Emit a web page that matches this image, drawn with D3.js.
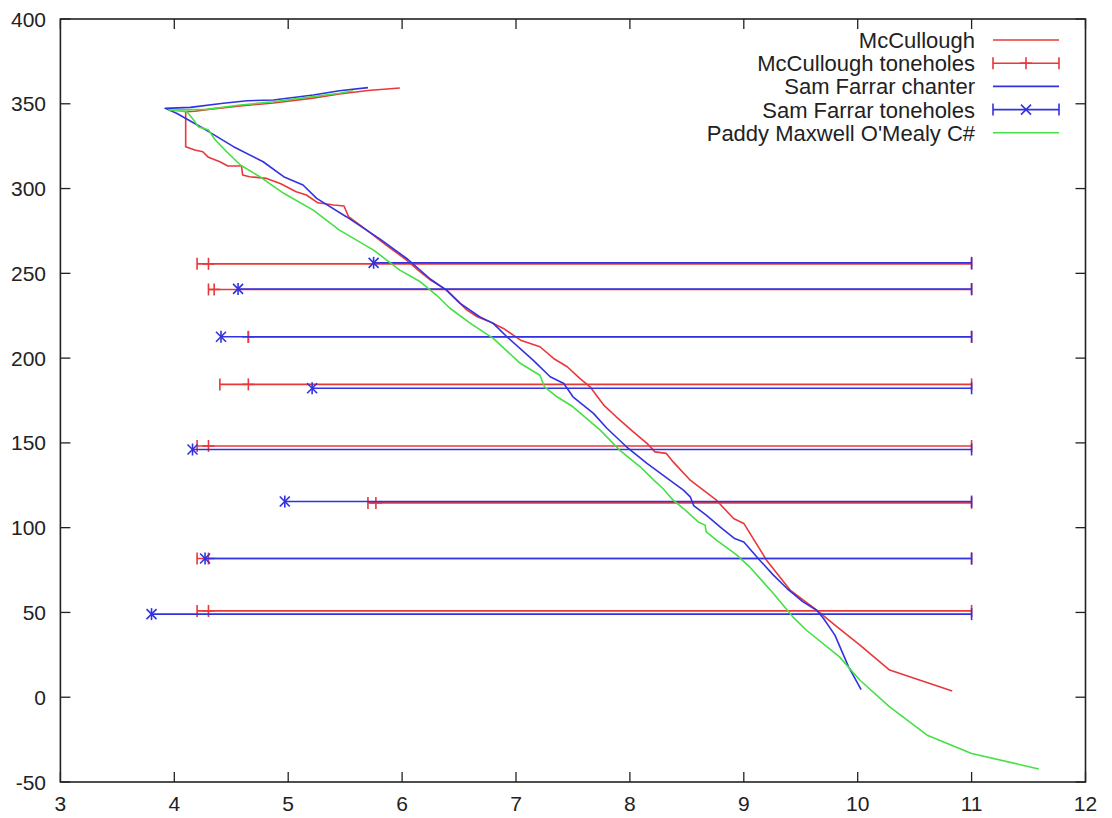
<!DOCTYPE html>
<html>
<head>
<meta charset="utf-8">
<script src="https://cdn.jsdelivr.net/npm/d3@7"></script>
<style>
  body { margin: 0; background: #fff; }
  text { font-family: "Liberation Sans", Arial, Helvetica, sans-serif; fill: #222; }
</style>
</head>
<body>
<div id="chart"></div>
<script>
// bore profiles: [diameter, position]
const mccullough = [[5.98,359.3],[5.7,357.8],[5.45,355.8],[5.2,353.2],[4.87,350.5],[4.6,348.8],[4.3,346.7],[4.18,345.6],[4.10,345.4],
  [4.10,324.7],[4.18,322.7],[4.25,321.7],[4.30,318.4],[4.40,315.8],[4.47,313.3],[4.59,313.3],[4.60,308],[4.66,307],[4.81,306],
  [4.93,303],[5.07,298.1],[5.16,296.2],[5.26,291.6],[5.40,290.3],[5.49,289.7],[5.53,283.4],[5.69,275.5],[5.86,266.7],[6.04,257.8],
  [6.14,251.9],[6.25,246],[6.39,240.1],[6.57,228.3],[6.66,224.4],[6.77,221.4],[6.89,217.5],[7.04,210.6],[7.21,206.7],[7.33,199.8],
  [7.45,194.9],[7.56,188],[7.65,183.1],[7.77,172.3],[7.88,165.4],[8.03,156.5],[8.15,149.7],[8.22,144.7],[8.32,143.8],[8.38,138.8],
  [8.53,128],[8.59,125],[8.76,116.2],[8.91,105.4],[9.00,102.5],[9.20,80.8],[9.41,63],[9.64,51.3],[9.80,42.5],[10.02,30.7],
  [10.28,16],[10.83,3.7]];

const farrar = [[5.70,359.5],[5.45,357.7],[5.22,355.2],[4.87,352.2],[4.64,351.8],[4.43,350.3],[4.14,347.9],[3.92,347.3],
  [4.02,344.4],[4.28,334.5],[4.52,324.7],[4.78,315.8],[4.96,307],[5.13,302.1],[5.25,294.2],[5.51,283.4],[5.81,270],[6.05,258.3],
  [6.25,246.5],[6.39,240.1],[6.51,232.3],[6.68,224.4],[6.80,220.5],[6.92,212.6],[7.15,198.8],[7.30,189],[7.42,185],[7.50,177.2],
  [7.68,167.4],[7.80,158.5],[7.97,147.7],[8.15,137.9],[8.32,129.5],[8.47,122.1],[8.53,118.2],[8.56,113],[8.67,107.4],[8.81,99.5],
  [8.92,93.6],[9.00,91.6],[9.14,80.8],[9.26,72],[9.38,64.1],[9.52,56.2],[9.64,51.3],[9.70,46.4],[9.80,36.6],[9.92,17.9],[10.03,4.5]];

const omealy = [[5.57,357.7],[5.45,356.2],[5.10,353.2],[4.87,351.2],[4.58,349.3],[4.28,346.7],[3.95,346.3],
  [4.11,345.3],[4.17,340.4],[4.21,336.5],[4.30,334.5],[4.36,328.6],[4.46,321.7],[4.58,313.9],[4.75,307],[4.96,297.2],[5.22,287.3],
  [5.45,275.5],[5.75,263.7],[5.98,251.9],[6.16,245],[6.30,237.2],[6.42,229.4],[6.60,220.5],[6.80,211.6],[7.04,196.8],[7.21,189.9],
  [7.25,183.1],[7.36,177.2],[7.50,171.3],[7.74,157.5],[7.91,145.7],[8.09,135.9],[8.21,128],[8.29,123.1],[8.38,116.2],[8.47,111.3],
  [8.60,103.4],[8.66,101.5],[8.67,97.5],[8.76,92.6],[8.94,83.8],[9.05,76.9],[9.26,61.2],[9.43,47.4],[9.55,39.5],[9.84,23.8],
  [10.02,10],[10.28,-5.7],[10.61,-22.4],[11.0,-33.2],[11.59,-42.3]];

// toneholes: [x, y, xlow, xhigh]
const mccToneholes = [[4.30,255.6,4.20,11],[4.35,240.5,4.30,11],[4.65,212.5,4.65,11],[4.65,184.5,4.40,11],
  [4.30,148.2,4.20,11],[5.77,114.6,5.70,11],[4.30,81.8,4.20,11],[4.30,50.9,4.20,11]];
const farToneholes = [[5.75,256.2,5.75,11],[4.56,240.8,4.56,11],[4.41,212.6,4.41,11],[5.21,182.2,5.21,11],
  [4.16,146.1,4.16,11],[4.97,115.4,4.97,11],[4.27,81.8,4.27,11],[3.80,49.0,3.80,11]];

const xTicks = [3,4,5,6,7,8,9,10,11,12];
const yTicks = [-50,0,50,100,150,200,250,300,350,400];
const legendLabels = ["McCullough","McCullough toneholes","Sam Farrar chanter","Sam Farrar toneholes","Paddy Maxwell O'Mealy C#"];

const RED = "#e8383a", BLUE = "#3232e0", GREEN = "#44e044";

const WIDTH = 1112, HEIGHT = 818;
const MARGINS = {left: 60.4, right: 26.5, top: 19, bottom: 36};

const svg = d3.select('#chart').append('svg')
  .attr('width', WIDTH).attr('height', HEIGHT);

const x = d3.scaleLinear().domain([3, 12]).range([MARGINS.left, WIDTH - MARGINS.right]);
const y = d3.scaleLinear().domain([-50, 400]).range([HEIGHT - MARGINS.bottom, MARGINS.top]);

const TICK = 10;

// tick marks, mirrored like gnuplot
const ticks = svg.append('g').attr('stroke', '#222').attr('stroke-width', 1.3);
xTicks.forEach(t => {
  ticks.append('line').attr('x1', x(t)).attr('x2', x(t)).attr('y1', y(-50)).attr('y2', y(-50) - TICK);
  ticks.append('line').attr('x1', x(t)).attr('x2', x(t)).attr('y1', y(400)).attr('y2', y(400) + TICK);
});
yTicks.forEach(t => {
  ticks.append('line').attr('x1', x(3)).attr('x2', x(3) + TICK).attr('y1', y(t)).attr('y2', y(t));
  ticks.append('line').attr('x1', x(12)).attr('x2', x(12) - TICK).attr('y1', y(t)).attr('y2', y(t));
});

svg.append('g').selectAll('text').data(xTicks).join('text')
  .attr('x', d => x(d)).attr('y', y(-50) + 29)
  .attr('text-anchor', 'middle').attr('font-size', 21).text(d => d);
svg.append('g').selectAll('text').data(yTicks).join('text')
  .attr('x', 46).attr('y', d => y(d)).attr('dy', '0.36em')
  .attr('text-anchor', 'end').attr('font-size', 21).text(d => d);

const line = d3.line().x(d => x(d[0])).y(d => y(d[1]));

function drawProfile(data, color) {
  svg.append('path').datum(data)
    .attr('fill', 'none').attr('stroke', color).attr('stroke-width', 1.6)
    .attr('stroke-linejoin', 'round').attr('d', line);
}

function plusMark(g, cx, cy, color) {
  g.append('line').attr('x1', cx - 6).attr('x2', cx + 6).attr('y1', cy).attr('y2', cy).attr('stroke', color);
  g.append('line').attr('x1', cx).attr('x2', cx).attr('y1', cy - 6).attr('y2', cy + 6).attr('stroke', color);
}
function crossMark(g, cx, cy, color) {
  g.append('line').attr('x1', cx - 5).attr('x2', cx + 5).attr('y1', cy - 5).attr('y2', cy + 5).attr('stroke', color);
  g.append('line').attr('x1', cx - 5).attr('x2', cx + 5).attr('y1', cy + 5).attr('y2', cy - 5).attr('stroke', color);
}

function errorBar(g, x0, x1, cy, color) {
  g.append('line').attr('x1', x0).attr('x2', x1).attr('y1', cy).attr('y2', cy).attr('stroke', color);
  g.append('line').attr('x1', x0).attr('x2', x0).attr('y1', cy - 6).attr('y2', cy + 6).attr('stroke', color);
  g.append('line').attr('x1', x1).attr('x2', x1).attr('y1', cy - 6).attr('y2', cy + 6).attr('stroke', color);
}

function drawToneholes(data, color, marker) {
  const g = svg.append('g').attr('stroke-width', 1.6);
  data.forEach(d => {
    errorBar(g, x(d[2]), x(d[3]), y(d[1]), color);
    marker(g, x(d[0]), y(d[1]), color);
  });
}

drawProfile(mccullough, RED);
drawToneholes(mccToneholes, RED, plusMark);
drawProfile(farrar, BLUE);
drawToneholes(farToneholes, BLUE, crossMark);
drawProfile(omealy, GREEN);

// legend
const legend = svg.append('g');
const legX0 = 993, legX1 = 1059, legTextX = 975, legY0 = 40, legStep = 23.2;
const legStyles = [
  {color: RED, type: 'line'}, {color: RED, type: 'plus'},
  {color: BLUE, type: 'line'}, {color: BLUE, type: 'cross'}, {color: GREEN, type: 'line'}
];
legendLabels.forEach((lab, i) => {
  const ly = legY0 + i * legStep;
  legend.append('text').attr('x', legTextX).attr('y', ly).attr('dy', '0.36em')
    .attr('text-anchor', 'end').attr('font-size', 22).text(lab);
  const st = legStyles[i];
  const g = legend.append('g').attr('stroke-width', 1.6);
  if (st.type === 'line') {
    g.append('line').attr('x1', legX0).attr('x2', legX1).attr('y1', ly).attr('y2', ly).attr('stroke', st.color);
  } else {
    errorBar(g, legX0, legX1, ly, st.color);
    if (st.type === 'plus') plusMark(g, (legX0 + legX1) / 2, ly, st.color);
    else crossMark(g, (legX0 + legX1) / 2, ly, st.color);
  }
});

// border
svg.append('rect')
  .attr('x', x(3)).attr('y', y(400))
  .attr('width', x(12) - x(3)).attr('height', y(-50) - y(400))
  .attr('fill', 'none').attr('stroke', '#222').attr('stroke-width', 1.6);
</script>
</body>
</html>
